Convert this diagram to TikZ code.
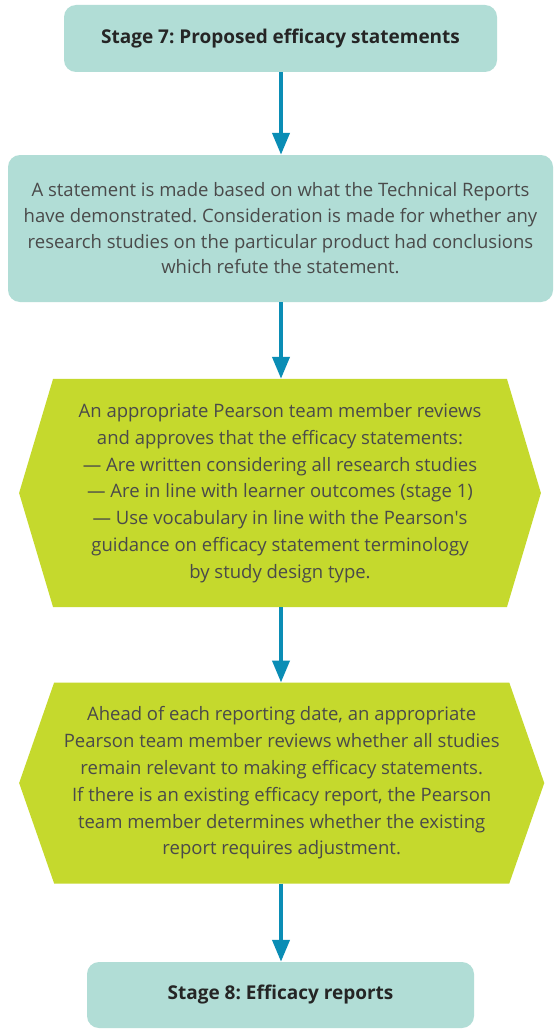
\documentclass[tikz,border=0pt]{standalone}
\usepackage{fontspec}
\setmainfont{Open Sans}
\frenchspacing
\definecolor{tealbox}{HTML}{B1DDD6}
\definecolor{limebox}{HTML}{C5D92D}
\definecolor{arrowblue}{HTML}{0A8DB5}
\definecolor{bodytext}{HTML}{4A4A4A}
\definecolor{titletext}{HTML}{252525}
\usetikzlibrary{arrows.meta}
\begin{document}
\begin{tikzpicture}[x=1pt,y=-1pt,
  stagebox/.style={fill=tealbox,rounded corners=12pt,inner sep=0pt,align=center,
     font=\fontsize{19}{22}\selectfont\bfseries,text=titletext},
  tealtext/.style={fill=tealbox,rounded corners=12pt,inner sep=0pt,align=center,
     font=\fontsize{18.5}{25.6}\selectfont,text=bodytext},
  hextext/.style={inner sep=0pt,align=center,
     font=\fontsize{18.5}{26.8}\selectfont,text=bodytext},
  flow/.style={draw=arrowblue,line width=4pt,-{Triangle[width=17pt,length=22pt]}}]
\useasboundingbox (0,0) rectangle (554,1030);
\fill[white] (0,0) rectangle (554,1030);

\node[stagebox,minimum width=433pt,minimum height=67pt] (s7) at (280.5,38.5)
  {Stage 7: Proposed efficacy statements};

\node[tealtext,minimum width=545pt,minimum height=147pt] (t1) at (280.5,228.5)
  {A statement is made based on what the Technical Reports\\
   have demonstrated. Consideration is made for whether any\\
   research studies on the particular product had conclusions\\
   which refute the statement.};

\node[hextext,minimum width=521.4pt,minimum height=228pt] (h1) at (280,493) {};
\fill[limebox] ([xshift=34pt]h1.north west) -- ([xshift=-34pt]h1.north east) -- (h1.east)
  -- ([xshift=-34pt]h1.south east) -- ([xshift=34pt]h1.south west) -- (h1.west) -- cycle;
\node[hextext] (h1t) at (h1.center)
  {An appropriate Pearson team member reviews\\
   and approves that the efficacy statements:\\
   --- Are written considering all research studies\\
   --- Are in line with learner outcomes (stage 1)\\
   --- Use vocabulary in line with the Pearson\textquotesingle s\\
   guidance on efficacy statement terminology\\
   by study design type.};

\node[hextext,minimum width=524.7pt,minimum height=200.6pt] (h2) at (281.7,783) {};
\fill[limebox] ([xshift=35pt]h2.north west) -- ([xshift=-35pt]h2.north east) -- (h2.east)
  -- ([xshift=-35pt]h2.south east) -- ([xshift=35pt]h2.south west) -- (h2.west) -- cycle;
\node[hextext] (h2t) at (h2.center)
  {Ahead of each reporting date, an appropriate\\
   Pearson team member reviews whether all studies\\
   remain relevant to making efficacy statements.\\
   If there is an existing efficacy report, the Pearson\\
   team member determines whether the existing\\
   report requires adjustment.};

\node[stagebox,minimum width=387pt,minimum height=66pt] (s8) at (280.5,995)
  {Stage 8: Efficacy reports};

\draw[flow] (s7.south -| 281,0) -- (t1.north -| 281,0);
\draw[flow] (t1.south -| 281,0) -- (h1.north -| 281,0);
\draw[flow] (h1.south -| 281,0) -- (h2.north -| 281,0);
\draw[flow] (h2.south -| 281,0) -- (s8.north -| 281,0);
\end{tikzpicture}
\end{document}
